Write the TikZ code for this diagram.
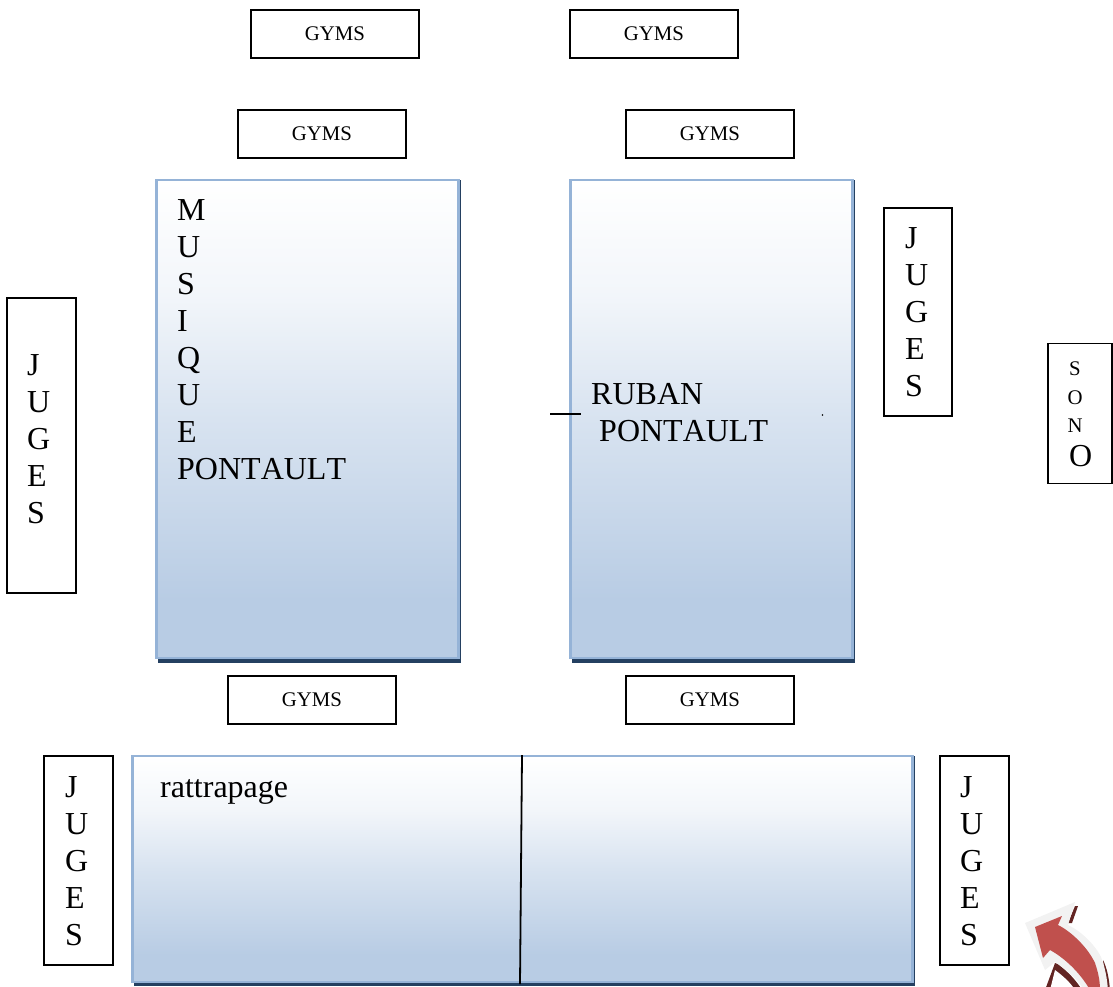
\documentclass[tikz,border=0pt]{standalone}
\usepackage{fontspec}
\setmainfont[RawFeature=-kern]{Liberation Serif}
\usetikzlibrary{calc}
\definecolor{panelline}{HTML}{95B3D7}
\definecolor{panelshadow}{HTML}{244061}
\definecolor{panelend}{HTML}{B8CCE4}
\definecolor{arrowred}{HTML}{C0504D}
\definecolor{arrowdark}{HTML}{632523}
\definecolor{arrowrim}{HTML}{F2F2F2}
\pgfdeclareverticalshading{panelfill}{100bp}{
  color(0bp)=(panelend); color(31bp)=(panelend); color(50bp)=(panelend!55!white); color(63bp)=(panelend!18!white); color(75bp)=(white); color(100bp)=(white)}
\tikzset{
  x=1pt,y=-1pt,
  panel/.style={draw=panelline,line width=2.6pt,shading=panelfill,anchor=north west,inner sep=0pt,outer sep=0pt},
  panelback/.style={fill=panelshadow,anchor=north west,inner sep=0pt,outer sep=0pt},
  framed/.style={draw=black,line width=1.6pt,fill=white,anchor=north west,inner sep=0pt,outer sep=0pt},
  small/.style={font=\fontsize{20.8}{21}\selectfont,inner sep=0pt},
  big/.style={font=\fontsize{32}{37}\selectfont,inner sep=0pt,anchor=north west,align=left},
  rule/.style={line width=1.8pt,draw=black}
}
\begin{document}
\begin{tikzpicture}
\useasboundingbox (0,0) rectangle (1113,987);
\clip (0,0) rectangle (1113,987);
% panels
\node[panelback,minimum width=303pt,minimum height=483pt] (ps1) at (158,180) {};
\node[panel,minimum width=302pt,minimum height=478pt] (p1) at (156.5,180) {};
\node[panelback,minimum width=283pt,minimum height=483pt] (ps2) at (572,180) {};
\node[panel,minimum width=282pt,minimum height=478pt] (p2) at (570.5,180) {};
\node[panelback,minimum width=781pt,minimum height=230pt] (ps3) at (134,756) {};
\node[panel,minimum width=780pt,minimum height=226pt] (p3) at (132.5,756) {};
% GYMS
\foreach \n/\xx/\yy in {g1/251/10,g2/570/10,g3/238/110,g4/626/110,g5/228/676,g6/626/676}{
  \node[framed,minimum width=168pt,minimum height=48pt] (\n) at (\xx,\yy) {};
  \node[small] (\n t) at (\n.center) {GYMS};
}
% JUGES boxes
\node[framed,minimum width=69pt,minimum height=295pt] (j1) at (7,298) {};
\node[framed,minimum width=68pt,minimum height=208pt] (j2) at (884,208) {};
\node[framed,minimum width=69pt,minimum height=209pt] (j3) at (44,756) {};
\node[framed,minimum width=69pt,minimum height=209pt] (j4) at (940,756) {};
\node[framed,minimum width=64pt,minimum height=140pt] (s1) at (1048,343.5) {};
% texts
\node[big] (j1t) at (27,354.5) {J\\U\\G\\E\\S};
\node[big] (j2t) at (905,227) {J\\U\\G\\E\\S};
\node[big] (j3t) at (65,776) {J\\U\\G\\E\\S};
\node[big] (j4t) at (960,776) {J\\U\\G\\E\\S};
\node[big] (m) at (177,199) {M\\U\\S\\I\\Q\\U\\E\\PONTAULT};
\node[big] (r) at (591,383) {RUBAN\\[0pt]\hspace{8pt}PONTAULT};
\node[big] (ra) at (160,779) {rattrapage};
\node[small,anchor=base] (so1) at (1075,375) {S};
\node[small,anchor=base] (so2) at (1075,404) {O};
\node[small,anchor=base] (so3) at (1075,432) {N};
\node[big,anchor=base west] (so4) at (1069,466) {O};
% rules
\coordinate (t1) at (550,414);
\coordinate (t2) at (581,414);
\draw[rule] (t1) -- (t2);
\coordinate (d1) at (522,755);
\coordinate (d2) at (520,984);
\draw[rule] (d1) -- (d2);
\coordinate (dot) at (822.5,415);
\fill (dot) circle (0.8pt);
% arrow
\fill[arrowdark] (1068,923) -- (1075,906) -- (1078,906) -- (1072,923) -- cycle;
\fill[arrowdark] (1045,990) -- (1055,963) -- (1058,964) .. controls (1068,972) and (1076,980) .. (1082,990) -- cycle;
\fill[white] (1050,990) -- (1055,970) .. controls (1063,976) and (1070,982) .. (1075,990) -- cycle;
\fill[arrowdark] (1103,960) .. controls (1107,968) and (1109,978) .. (1110,990) -- (1106,990) -- cycle;
\fill[arrowrim] (1025,923) -- (1075,902) -- (1068,925)
  .. controls (1085,933) and (1098,950) .. (1101,957)
  .. controls (1105,967) and (1107,978) .. (1108,990) -- (1084,990)
  .. controls (1076,977) and (1066,970) .. (1055,962) -- (1045,970) -- cycle;
\fill[arrowred] (1035,927) -- (1062,916) -- (1058,925)
  .. controls (1072,932) and (1088,948) .. (1095,963)
  .. controls (1098,972) and (1100,980) .. (1100,990) -- (1090,990)
  .. controls (1082,976) and (1068,960) .. (1050,950) -- (1043,958) -- cycle;
\end{tikzpicture}
\end{document}
